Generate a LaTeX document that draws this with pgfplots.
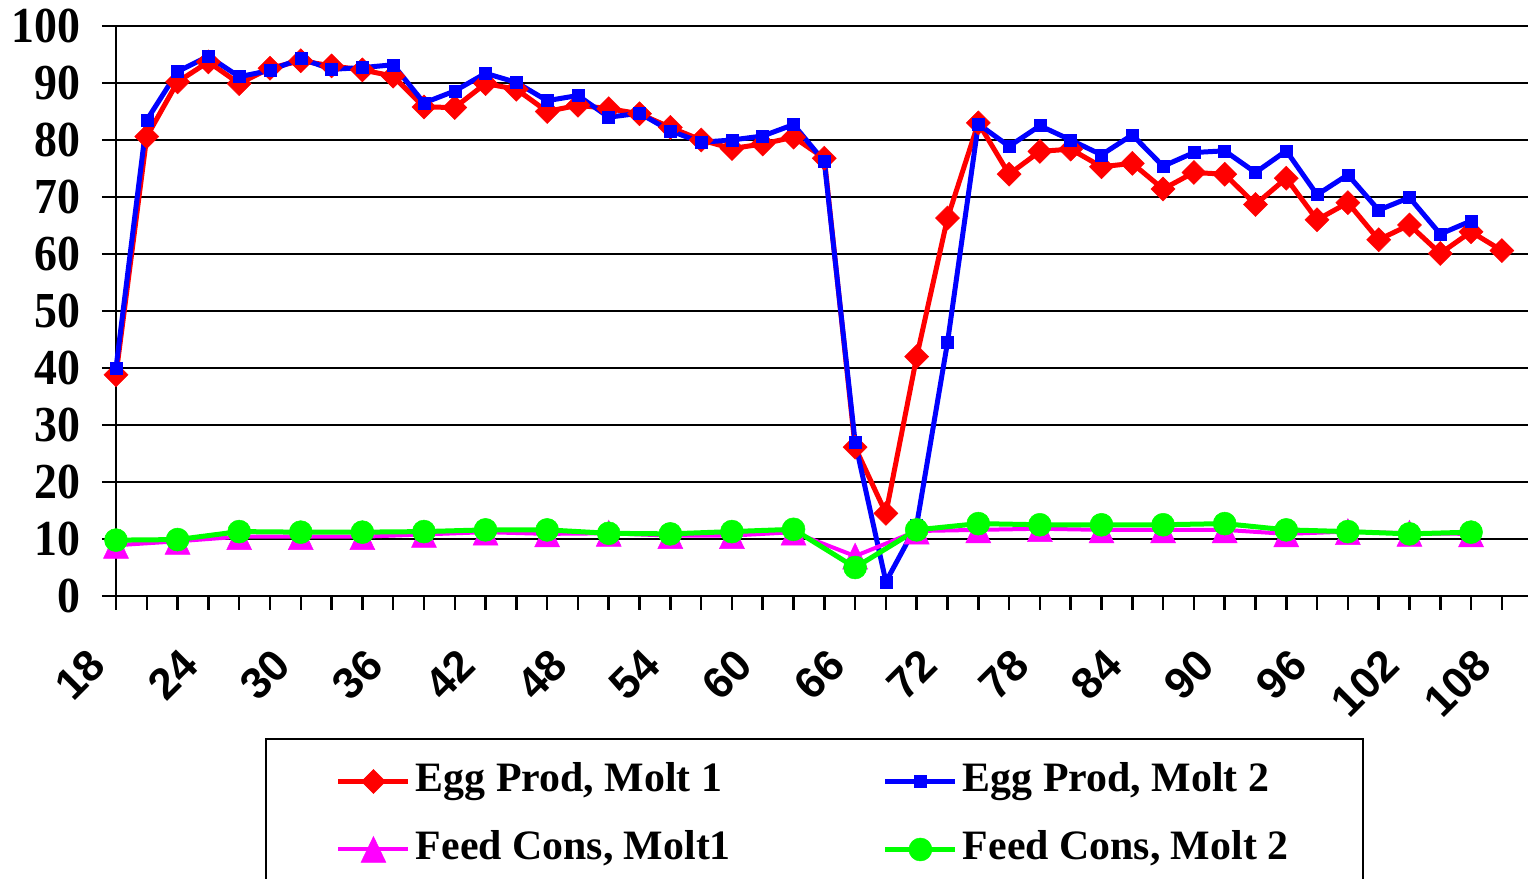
\documentclass[border=0pt]{standalone}
\usepackage{pgfplots}
\pgfplotsset{compat=1.18}
\usepackage{fontspec}
\setmainfont{Liberation Serif}
\newfontfamily\arialfont{Liberation Sans}
\newcommand\yfont{\fontsize{46}{46}\selectfont\bfseries}
\newcommand\xfont{\arialfont\fontsize{44}{44}\selectfont\bfseries}
\newcommand\legfont{\fontsize{42}{42}\selectfont\bfseries}
\definecolor{cred}{RGB}{255,0,0}
\definecolor{cblue}{RGB}{0,0,255}
\definecolor{cmag}{RGB}{255,0,255}
\definecolor{cgreen}{RGB}{0,255,0}
\pgfdeclareplotmark{xltri}{%
  \pgfpathmoveto{\pgfqpoint{0pt}{\pgfplotmarksize}}%
  \pgfpathlineto{\pgfqpoint{-0.96\pgfplotmarksize}{-\pgfplotmarksize}}%
  \pgfpathlineto{\pgfqpoint{0.96\pgfplotmarksize}{-\pgfplotmarksize}}%
  \pgfpathclose
  \pgfusepathqfillstroke
}

\pgfplotstableread{
w v
18 38.8
20 80.6
22 90.2
24 93.7
26 89.9
28 92.6
30 93.9
32 93.0
34 92.3
36 91.2
38 85.8
40 85.7
42 89.9
44 88.9
46 85.0
48 86.1
50 85.5
52 84.6
54 82.2
56 80.0
58 78.5
60 79.3
62 80.5
64 76.8
66 26.1
68 14.5
70 42.0
72 66.3
74 83.0
76 74.0
78 78.0
80 78.4
82 75.3
84 75.9
86 71.4
88 74.3
90 74.0
92 68.7
94 73.3
96 66.0
98 69.0
100 62.5
102 65.1
104 60.1
106 63.9
108 60.6
}\eggA

\pgfplotstableread{
w v
18 40.0
20 83.5
22 92.0
24 94.7
26 91.1
28 92.2
30 94.3
32 92.4
34 92.7
36 93.2
38 86.5
40 88.6
42 91.7
44 90.1
46 86.9
48 87.8
50 84.0
52 84.7
54 81.6
56 79.6
58 80.0
60 80.7
62 82.7
64 76.2
66 27.0
68 2.5
70 12.5
72 44.5
74 82.8
76 78.9
78 82.5
80 80.0
82 77.4
84 80.9
86 75.4
88 77.8
90 78.1
92 74.3
94 78.1
96 70.4
98 73.9
100 67.7
102 69.9
104 63.5
106 65.8
}\eggB

\pgfplotstableread{
w v
18 8.9
22 9.6
26 10.4
30 10.4
34 10.4
38 10.8
42 11.2
46 10.9
50 11.0
54 10.6
58 10.6
62 11.2
66 7.0
70 11.4
74 11.6
78 11.8
82 11.6
86 11.6
90 11.6
94 10.9
98 11.3
102 11.0
106 10.9
}\feedA

\pgfplotstableread{
w v
18 9.8
22 9.9
26 11.3
30 11.2
34 11.2
38 11.3
42 11.6
46 11.6
50 11.0
54 10.9
58 11.3
62 11.7
66 5.0
70 11.6
74 12.7
78 12.5
82 12.5
86 12.5
90 12.7
94 11.6
98 11.3
102 10.9
106 11.2
}\feedB

\begin{document}
\begin{tikzpicture}
\begin{axis}[
  at={(0,0)}, anchor=south west,
  width=1412bp, height=570bp, scale only axis,
  xmin=18, xmax=109.7, ymin=0, ymax=100,
  axis x line=bottom, axis y line=left,
  axis line style={-, line width=2.5bp, black},
  ytick={0,10,...,100},
  xtick={18,24,...,108},
  minor xtick={20,22,...,108},
  ymajorgrids,
  grid style={black, line width=2.5bp},
  tick align=outside,
  major tick length=14bp, minor tick length=14bp,
  every tick/.style={line width=2.5bp, black},
  /pgf/number format/assume math mode=true,
  yticklabel={\scalebox{1}[1.1]{\pgfmathprintnumber{\tick}}},
  yticklabel style={font=\yfont, xshift=-18bp},
  xticklabel style={font=\xfont, xshift=-16bp, yshift=-45bp, rotate=45, anchor=east},
  clip=false,
  legend columns=2,
  legend cell align=left,
  legend style={
    at={(0.1055,-0.2491)}, anchor=north west,
    draw=black, line width=2bp,
    inner xsep=70bp, inner ysep=20bp,
    font=\legfont,
    row sep=23bp,
    nodes={inner xsep=5bp, inner ysep=2bp, text height=31bp, text depth=10bp},
    /tikz/every even column/.append style={column sep=147bp},
  },
  legend image code/.code={
    \draw[mark repeat=2,mark phase=2] plot coordinates {(0bp,0bp) (35bp,0bp) (70bp,0bp)};
  },
]
\addplot[cred, line width=5bp, mark=square*, mark size=8.5bp, mark options={rotate=45, line width=0.5bp}] table[x=w,y=v] {\eggA};
\addlegendentry{Egg Prod, Molt 1}
\addplot[cblue, line width=5bp, mark=square*, mark size=6bp, mark options={line width=0.5bp}] table[x=w,y=v] {\eggB};
\addlegendentry{Egg Prod, Molt 2}
\addplot[cmag, line width=4bp, mark=xltri, mark size=13bp, mark options={line width=0.5bp}] table[x=w,y=v] {\feedA};
\addlegendentry{Feed Cons, Molt1}
\addplot[cgreen, line width=5bp, mark=*, mark size=11.5bp, mark options={line width=0.5bp}] table[x=w,y=v] {\feedB};
\addlegendentry{Feed Cons, Molt 2}
\end{axis}
\pgfresetboundingbox
\path[use as bounding box] (-116bp,-283bp) rectangle (1413bp,596bp);
\end{tikzpicture}
\end{document}
